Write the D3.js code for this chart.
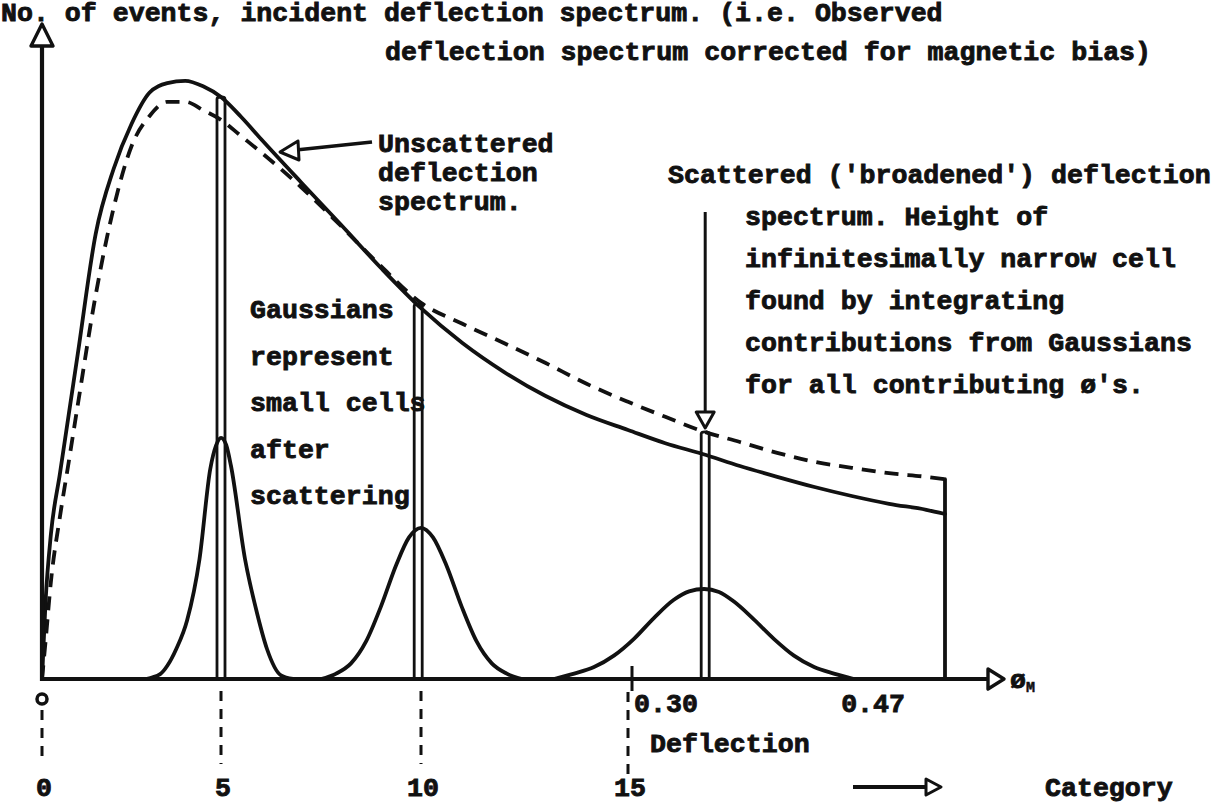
<!DOCTYPE html>
<html>
<head>
<meta charset="utf-8">
<script src="https://cdn.jsdelivr.net/npm/d3@7"></script>
<style>
  html, body { margin: 0; padding: 0; background: #fff; }
  svg text {
    font-family: "Liberation Mono", "DejaVu Sans Mono", monospace;
    font-weight: bold;
    font-size: 26.6px;
    fill: #111;
    stroke: #111;
    stroke-width: 0.9px;
  }
</style>
</head>
<body>
<svg id="chart" width="1227" height="803"></svg>
<script>
// ---- axis ticks ----
const categoryTicks = [0, 5, 10, 15];
const deflectionTicks = [0.30, 0.47];
const deflectionPerCategory = 0.02;

// ---- incident deflection spectra (counts vs category) ----
const spectrumCategories = [0, 0.1, 0.25, 0.5, 0.75, 1, 1.5, 2, 2.5, 3, 3.5, 4, 4.5, 5, 5.5, 6,
  7, 8, 9, 10, 11, 12, 13, 14, 15, 16, 17, 18, 19, 20, 21, 22, 23, 23.5];
const unscatteredCounts = [0, 13.0, 24.2, 34.2, 44.2, 54.2, 74.2, 85.0, 92.5, 97.7, 99.3, 99.7, 98.8, 97.0, 93.7, 90.0,
  82.8, 75.7, 68.5, 61.8, 56.0, 51.2, 47.2, 44.0, 41.5, 39.3, 37.5, 35.5, 33.7, 32.0, 30.5, 29.2, 28.2, 27.5];
const scatteredCounts = [0, 6.3, 16.3, 27.0, 36.3, 45.7, 64.0, 78.5, 88.8, 93.8, 96.2, 96.2, 94.8, 93.2, 90.5, 87.8,
  82.0, 75.5, 68.8, 62.7, 59.2, 56.0, 52.7, 49.2, 46.2, 43.7, 41.3, 39.5, 37.7, 36.2, 35.2, 34.3, 33.7, 33.3];

// ---- narrow cells ----
const cellCategories = [5, 9.93, 17.07];
const cellCounts = [97.0, 62.5, 41.2];

// ---- gaussians: small cells after scattering ----
const gauss1Categories = [2.9, 3.3, 3.5, 3.75, 4.05, 4.4, 4.7, 4.86, 5, 5.13, 5.25, 5.6, 5.9, 6.15, 6.5, 6.8];
const gauss1Counts     = [0, 0.8, 2.2, 5, 9.7, 20, 35, 38.9, 40.2, 39, 35.5, 20, 11, 5, 0.6, 0];
const gauss2Categories = [7.5, 7.88, 8.25, 8.63, 9.0, 9.38, 9.7, 10, 10.29, 10.61, 10.98, 11.34, 11.71, 12.07, 12.44];
const gauss2Counts     = [0, 0.9, 2.6, 6.3, 12.1, 19, 23.6, 25.2, 23.6, 19, 12.1, 6.3, 2.6, 0.9, 0];
const gauss3Categories = [13.21, 13.70, 14.18, 14.66, 15.16, 15.70, 16.23, 16.64, 17.04, 17.44, 17.84, 18.38, 18.91, 19.45, 19.99, 20.52, 21.06];
const gauss3Counts     = [0, 0.9, 2.0, 3.9, 6.7, 10.2, 13.2, 14.6, 15, 14.5, 12.9, 9.9, 6.7, 3.9, 2.0, 0.9, 0];

// ---- text ----
const titleLines = ["No. of events, incident deflection spectrum. (i.e. Observed",
                    "deflection spectrum corrected for magnetic bias)"];
const unscatteredNote = ["Unscattered", "deflection", "spectrum."];
const scatteredNote = ["Scattered ('broadened') deflection", "spectrum.  Height of",
  "infinitesimally narrow cell", "found by integrating", "contributions from Gaussians",
  "for all contributing \u00f8's."];
const gaussNote = ["Gaussians", "represent", "small cells", "after", "scattering"];

// ---------------------------------------------------------------
const svg = d3.select("#chart");
const ink = "#111";

// hand-spaced category axis (piecewise linear)
const x = d3.scaleLinear().domain([0, 5, 10, 15, 23.5]).range([42, 221, 421, 628, 945]);
const y = d3.scaleLinear().domain([0, 100]).range([679, 79]);
const x0 = x(0), y0 = y(0);

const zip = (xs, ys) => xs.map((c, i) => [c, ys[i]]);
const line = d3.line().x(d => x(d[0])).y(d => y(d[1])).curve(d3.curveMonotoneX);

const plot = svg.append("g").attr("fill", "none").attr("stroke", ink)
  .attr("stroke-linecap", "round").attr("stroke-linejoin", "round");

// gaussians
[[gauss1Categories, gauss1Counts], [gauss2Categories, gauss2Counts], [gauss3Categories, gauss3Counts]]
  .forEach(([cs, vs]) => plot.append("path").attr("d", line(zip(cs, vs))).attr("stroke-width", 3.8));

// unscattered (solid) and scattered (dashed) spectra
plot.append("path").attr("d", line(zip(spectrumCategories, unscatteredCounts))).attr("stroke-width", 3.8);
plot.append("path").attr("d", line(zip(spectrumCategories, scatteredCounts)))
  .attr("stroke-width", 3.8).attr("stroke-dasharray", "14 9").attr("stroke-linecap", "butt");

// end of the spectrum at the maximum deflection
const endCat = deflectionTicks[1] / deflectionPerCategory;
plot.append("line").attr("x1", x(endCat)).attr("x2", x(endCat))
  .attr("y1", y0).attr("y2", y(scatteredCounts[scatteredCounts.length - 1])).attr("stroke-width", 3.8);

// narrow cells
const cellHalf = 4;
cellCategories.forEach((c, i) => {
  const cx = x(c), top = y(cellCounts[i]);
  plot.append("path")
    .attr("d", `M${cx - cellHalf},${y0} L${cx - cellHalf},${top + 2} Q${cx - cellHalf},${top} ${cx},${top} Q${cx + cellHalf},${top} ${cx + cellHalf},${top + 2} L${cx + cellHalf},${y0}`)
    .attr("stroke-width", 2.8);
});

// axes with open arrowheads
const axes = svg.append("g").attr("stroke", ink).attr("stroke-width", 4.2).attr("fill", "none");
axes.append("line").attr("x1", x0).attr("x2", x0).attr("y1", y0 + 2).attr("y2", 46);
axes.append("path").attr("d", `M${x0 - 11},46 L${x0},24 L${x0 + 11},46 Z`)
  .attr("fill", "#fff").attr("stroke-width", 3.4).attr("stroke-linejoin", "round");
axes.append("line").attr("x1", x0 - 2).attr("x2", 988).attr("y1", y0).attr("y2", y0);
axes.append("path").attr("d", `M988,${y0 - 10} L1004,${y0} L988,${y0 + 10} Z`)
  .attr("fill", "#fff").attr("stroke-width", 3.4).attr("stroke-linejoin", "round");

// phi_M label
const phi = svg.append("text").attr("x", 1010).attr("y", y0 + 9);
phi.append("tspan").text("\u00f8");
phi.append("tspan").attr("dy", 4).style("font-size", "15px").style("stroke-width", "0.5px").text("M");

// category guides and labels
const guides = svg.append("g").attr("stroke", ink).attr("stroke-width", 3)
  .attr("stroke-dasharray", "10 8").attr("fill", "none");
categoryTicks.forEach(c => {
  const top = c === 0 ? 710 : (c === 15 ? 692 : y0 + 12);
  const bottom = c === 15 ? 776 : 764;
  guides.append("line").attr("x1", x(c)).attr("x2", x(c)).attr("y1", top).attr("y2", bottom);
  svg.append("text").attr("x", x(c) + 2).attr("y", 796)
    .attr("text-anchor", "middle").text(c);
});
svg.append("circle").attr("cx", x0).attr("cy", 699).attr("r", 5)
  .attr("fill", "none").attr("stroke", ink).attr("stroke-width", 3.5);

// deflection ticks
const tickGroup = svg.append("g").attr("stroke", ink).attr("stroke-width", 3);
deflectionTicks.forEach((d, i) => {
  const c = d / deflectionPerCategory;
  if (i === 0) {
    tickGroup.append("line").attr("x1", x(c) + 4).attr("x2", x(c) + 4).attr("y1", y0 - 13).attr("y2", y0 + 12);
    svg.append("text").attr("x", x(c) + 6).attr("y", 712).text(d.toFixed(2));
  } else {
    svg.append("text").attr("x", x(c) - 40).attr("y", 712).attr("text-anchor", "end").text(d.toFixed(2));
  }
});
svg.append("text").attr("x", 650).attr("y", 752).text("Deflection");

// category arrow
svg.append("line").attr("x1", 853).attr("x2", 926).attr("y1", 787).attr("y2", 787)
  .attr("stroke", ink).attr("stroke-width", 4);
svg.append("path").attr("d", "M926,779 L941,787 L926,795 Z").attr("fill", "#fff")
  .attr("stroke", ink).attr("stroke-width", 3).attr("stroke-linejoin", "round");
svg.append("text").attr("x", 1045).attr("y", 796).text("Category");

// title
svg.append("text").attr("x", 1).attr("y", 21).text(titleLines[0]);
svg.append("text").attr("x", 385).attr("y", 60).text(titleLines[1]);

// unscattered note with arrow
unscatteredNote.forEach((t, i) => svg.append("text").attr("x", 378).attr("y", 152 + i * 29).text(t));
svg.append("line").attr("x1", 372).attr("y1", 142).attr("x2", 296).attr("y2", 150)
  .attr("stroke", ink).attr("stroke-width", 3.5);
svg.append("path").attr("d", "M298,141 L280,152 L299,160 Z").attr("fill", "#fff")
  .attr("stroke", ink).attr("stroke-width", 3).attr("stroke-linejoin", "round");

// scattered note with arrow down to the third cell
scatteredNote.forEach((t, i) => svg.append("text").attr("x", i === 0 ? 668 : 745).attr("y", 183 + i * 42).text(t));
const c3 = x(cellCategories[2]);
svg.append("line").attr("x1", c3).attr("x2", c3).attr("y1", 212).attr("y2", 412)
  .attr("stroke", ink).attr("stroke-width", 3);
svg.append("path").attr("d", `M${c3 - 9},412 L${c3},428 L${c3 + 9},412 Z`).attr("fill", "#fff")
  .attr("stroke", ink).attr("stroke-width", 3).attr("stroke-linejoin", "round");

// gaussian note
gaussNote.forEach((t, i) => svg.append("text").attr("x", 250).attr("y", 318 + i * 46.5).text(t));
</script>
</body>
</html>
